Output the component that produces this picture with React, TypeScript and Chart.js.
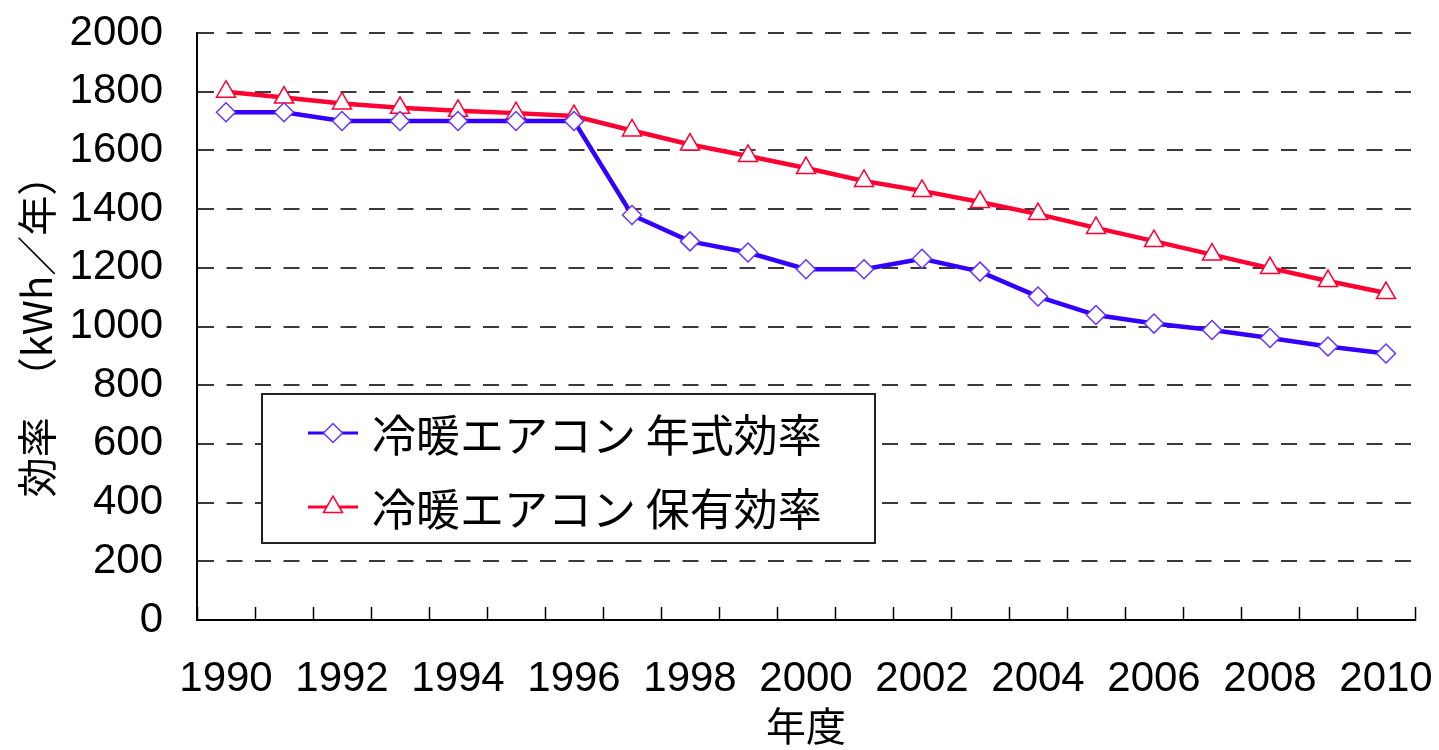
import React, { useEffect, useRef } from 'react';
import { Chart, registerables } from 'chart.js';

Chart.register(...registerables);

// ---- data ----
const years = [
  '1990', '1991', '1992', '1993', '1994', '1995', '1996', '1997', '1998', '1999', '2000',
  '2001', '2002', '2003', '2004', '2005', '2006', '2007', '2008', '2009', '2010',
];
const modelYearEfficiency = [
  1730, 1730, 1700, 1700, 1700, 1700, 1700, 1380, 1290, 1252, 1195,
  1195, 1231, 1187, 1102, 1039, 1010, 988, 961, 932, 908,
];
const stockEfficiency = [
  1800, 1780, 1760, 1745, 1735, 1727, 1717, 1668, 1620, 1581, 1540,
  1496, 1462, 1424, 1383, 1336, 1291, 1245, 1199, 1155, 1114,
];
const seriesLabels = ['冷暖エアコン 年式効率', '冷暖エアコン 保有効率'];
const yTitle = '効率　（kWh／年）';
const xTitle = '年度';
const yMin = 0;
const yMax = 2000;
const yStep = 200;

const BLUE_LINE = '#3300ff';
const BLUE_MARK = '#6633ff';
const RED_LINE = '#ff0033';
const RED_MARK = '#ff0033';
const NUM_FONT = '"Liberation Sans", Arial, sans-serif';
const CJK_FONT = '"Noto Sans CJK JP", sans-serif';

function drawMarker(ctx: CanvasRenderingContext2D, style: string, x: number, y: number, r: number, stroke: string, lw: number) {
  ctx.beginPath();
  if (style === 'rectRot') {
    ctx.moveTo(x - r, y);
    ctx.lineTo(x, y - r);
    ctx.lineTo(x + r, y);
    ctx.lineTo(x, y + r);
  } else {
    const TWO_THIRDS_PI = (2 * Math.PI) / 3;
    let rad = 0;
    ctx.moveTo(x + Math.sin(rad) * r, y - Math.cos(rad) * r);
    rad += TWO_THIRDS_PI;
    ctx.lineTo(x + Math.sin(rad) * r, y - Math.cos(rad) * r);
    rad += TWO_THIRDS_PI;
    ctx.lineTo(x + Math.sin(rad) * r, y - Math.cos(rad) * r);
  }
  ctx.closePath();
  ctx.fillStyle = '#ffffff';
  ctx.fill();
  ctx.strokeStyle = stroke;
  ctx.lineWidth = lw;
  ctx.stroke();
}

const insideLegend = {
  id: 'insideLegend',
  afterDatasetsDraw(chart: any) {
    const { ctx, chartArea } = chart;
    const left = chartArea.left + 65;
    const top = chartArea.top + 361;
    const w = 613;
    const h = 149;
    ctx.save();
    ctx.fillStyle = '#ffffff';
    ctx.fillRect(left, top, w, h);
    ctx.strokeStyle = '#222222';
    ctx.lineWidth = 2;
    ctx.strokeRect(left, top, w, h);
    chart.data.datasets.forEach((ds: any, i: number) => {
      const cy = top + 39 + i * 74;
      const x0 = left + 46;
      const x1 = left + 96;
      ctx.strokeStyle = ds.borderColor;
      ctx.lineWidth = 3;
      ctx.beginPath();
      ctx.moveTo(x0, cy);
      ctx.lineTo(x1, cy);
      ctx.stroke();
      drawMarker(ctx, ds.pointStyle, (x0 + x1) / 2, cy, ds.pointRadius, ds.pointBorderColor, ds.pointBorderWidth);
      ctx.fillStyle = '#000000';
      ctx.font = `44px ${CJK_FONT}`;
      ctx.textAlign = 'left';
      ctx.textBaseline = 'middle';
      ctx.fillText(ds.label, left + 110, cy + 2);
    });
    ctx.restore();
  },
};

export default function App() {
  const canvasRef = useRef<HTMLCanvasElement | null>(null);

  useEffect(() => {
    document.body.style.margin = '0';
    const canvas = canvasRef.current;
    if (!canvas) return;
    const chart = new Chart(canvas, {
      type: 'line',
      data: {
        labels: years,
        datasets: [
          {
            label: seriesLabels[0],
            data: modelYearEfficiency,
            borderColor: BLUE_LINE,
            borderWidth: 4.5,
            pointStyle: 'rectRot',
            pointRadius: 9.5,
            pointBorderColor: BLUE_MARK,
            pointBorderWidth: 1.5,
            pointBackgroundColor: '#ffffff',
            tension: 0,
          },
          {
            label: seriesLabels[1],
            data: stockEfficiency,
            borderColor: RED_LINE,
            borderWidth: 4.5,
            pointStyle: 'triangle',
            pointRadius: 11,
            pointBorderColor: RED_MARK,
            pointBorderWidth: 1.5,
            pointBackgroundColor: '#ffffff',
            tension: 0,
          },
        ],
      },
      options: {
        animation: false,
        responsive: false,
        devicePixelRatio: 1,
        layout: { padding: { left: 0, right: 24, top: 33, bottom: 0 } },
        plugins: {
          legend: { display: false },
          tooltip: { enabled: false },
        },
        scales: {
          x: {
            type: 'category',
            offset: true,
            afterFit: (scale: any) => {
              scale.height = 130;
              scale.paddingLeft = 0;
              scale.paddingRight = 0;
            },
            grid: {
              offset: true,
              drawOnChartArea: false,
              drawTicks: true,
              tickLength: -13,
              tickColor: '#000000',
              tickWidth: 1.5,
            },
            border: { display: true, color: '#000000', width: 2 },
            ticks: {
              autoSkip: false,
              maxRotation: 0,
              minRotation: 0,
              padding: 47,
              color: '#000000',
              font: { family: NUM_FONT, size: 42 },
              callback: (_v: any, i: number) => (i % 2 === 0 ? years[i] : ''),
            },
            title: {
              display: true,
              text: xTitle,
              color: '#000000',
              font: { family: CJK_FONT, size: 40 },
              padding: { top: 0, bottom: 0 },
            },
          },
          y: {
            min: yMin,
            max: yMax,
            afterFit: (scale: any) => {
              scale.width = 197;
              scale.paddingTop = 0;
              scale.paddingBottom = 0;
            },
            grid: {
              color: '#3a3a3a',
              lineWidth: 2,
              drawTicks: false,
            },
            border: { display: true, color: '#000000', width: 2, dash: [16, 12.5] },
            ticks: {
              stepSize: yStep,
              padding: 34,
              color: '#000000',
              font: { family: NUM_FONT, size: 42 },
              callback: (v: any) => String(v),
            },
            title: {
              display: true,
              text: yTitle,
              color: '#000000',
              font: { family: CJK_FONT, size: 40 },
              padding: { top: 13, bottom: 0 },
            },
          },
        },
      },
      plugins: [insideLegend],
    });
    return () => chart.destroy();
  }, []);

  return (
    <div style={{ width: 1439, height: 750, background: '#ffffff' }}>
      <canvas ref={canvasRef} width={1439} height={750} style={{ display: 'block' }} />
    </div>
  );
}
